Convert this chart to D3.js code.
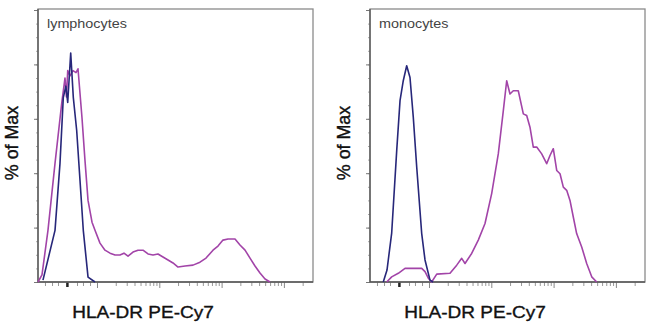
<!DOCTYPE html>
<html>
<head>
	<meta charset="utf-8">
	<script src="https://cdn.jsdelivr.net/npm/d3@7"></script>
</head>
<style type="text/css">
	body { margin:0; background:#fff; }
	text { font-family: "Liberation Sans", Arial, sans-serif; }
</style>
<body>
</body>
</html>
<script type="text/javascript">
	// x in display units of the biexponential axis (decades), y in % of Max
	var lymphIso = [[1.133,0.7],[1.326,19],[1.406,43.6],[1.459,67.8],[1.50,72],[1.53,66],[1.578,84.2],[1.62,67.8],[1.674,55.7],[1.727,37.4],[1.78,19],[1.856,1.8],[1.968,0]];
	var lymphHla = [[1.053,0],[1.117,2.6],[1.213,19],[1.326,43.6],[1.433,65.6],[1.486,75],[1.51,68],[1.53,77.7],[1.567,75.8],[1.615,77.7],[1.663,77],[1.695,78.4],[1.759,60.4],[1.807,44.7],[1.856,30],[1.92,22],[1.968,19],[2.048,14.3],[2.128,11.7],[2.209,10.6],[2.289,9.9],[2.369,9.9],[2.433,10.6],[2.498,9.5],[2.578,11],[2.658,11.7],[2.738,11.7],[2.819,10.3],[2.899,9.9],[2.979,10.3],[3.059,9.2],[3.14,8.1],[3.22,7],[3.3,5.5],[3.413,5.9],[3.541,6.2],[3.653,7.3],[3.75,8.8],[3.862,11.7],[3.942,13.2],[4.022,15.4],[4.103,15.8],[4.215,15.8],[4.295,13.6],[4.376,11.7],[4.456,8.8],[4.536,5.9],[4.616,3.3],[4.697,1.1],[4.777,0]];
	var monoIso = [[1.266,0],[1.326,4.4],[1.401,18],[1.482,48.4],[1.535,66.7],[1.587,74],[1.642,79.5],[1.695,75.2],[1.748,60.5],[1.803,42.2],[1.883,17.8],[1.936,8.1],[2.016,0.7],[2.064,0]];
	var monoHla = [[1.321,0],[1.401,1.9],[1.507,3.2],[1.615,5],[1.883,5],[1.936,3.8],[1.989,1.4],[2.043,0],[2.124,2.9],[2.337,3.2],[2.445,6.2],[2.525,8.7],[2.578,6.8],[2.685,10.5],[2.791,15.4],[2.899,21.5],[3.006,32.5],[3.112,47.1],[3.193,63],[3.247,74],[3.3,69.1],[3.353,70.3],[3.433,70.3],[3.514,61.8],[3.568,61.2],[3.621,56.9],[3.674,49.6],[3.729,49.6],[3.809,47.1],[3.889,43.5],[3.942,46.5],[3.995,49],[4.05,41],[4.103,39.8],[4.156,34.9],[4.21,33.7],[4.263,30],[4.316,23.9],[4.37,17.8],[4.451,12.9],[4.531,6.8],[4.612,1.9],[4.692,0]];

	var panelNames = ["lymphocytes", "monocytes"];
	var panelSeries = [[lymphIso, lymphHla], [monoIso, monoHla]];
	var seriesColors = ["#27277a", "#a244a8"];
	var yTicks = [0, 20, 40, 60, 80, 100];
	var yMinor = d3.range(0, 100, 5);
	var linTicks = [1.165, 1.278, 1.374, 1.679, 1.775, 1.888];
	var decades = [2, 3, 4, 5];
	var zeroPos = 1.525;
	var xLabel = "HLA-DR PE-Cy7";
	var yLabel = "% of Max";

	var width = 650, height = 324;
	var svg = d3.select("body").append("svg").attr("width", width).attr("height", height);

	var panelLeft = [38, 370];
	var pw = 275, plotTop = 9, plotBottom = 282;
	var y = d3.scaleLinear().domain([0, 100]).range([plotBottom, plotTop + 1]);

	// minor ticks along x (log spacing inside each decade)
	var xMinor = linTicks.slice();
	decades.forEach(function(d){
		for (var k = 2; k <= 9; k++) xMinor.push(d + Math.log10(k));
	});

	panelNames.forEach(function(name, i){
		var x = d3.scaleLinear().domain([1.053, 5.467]).range([panelLeft[i], panelLeft[i] + pw]);
		var g = svg.append("g");

		// x ticks
		g.append("g").attr("transform", "translate(0," + plotBottom + ")")
			.call(d3.axisBottom(x).tickValues(xMinor.filter(function(v){ return v < 5.46; })).tickSize(4).tickFormat(""))
			.call(function(a){ a.select(".domain").remove(); a.selectAll("line").attr("stroke", "#999"); });
		g.append("g").attr("transform", "translate(0," + plotBottom + ")")
			.call(d3.axisBottom(x).tickValues(decades).tickSize(6).tickFormat(""))
			.call(function(a){ a.select(".domain").remove(); a.selectAll("line").attr("stroke", "#888"); });
		g.append("line").attr("x1", x(zeroPos)).attr("x2", x(zeroPos)).attr("y1", plotBottom).attr("y2", plotBottom + 5)
			.attr("stroke", "#222").attr("stroke-width", 2.5);

		// y ticks
		g.append("g").attr("transform", "translate(" + panelLeft[i] + ",0)")
			.call(d3.axisLeft(y).tickValues(yMinor).tickSize(2).tickFormat(""))
			.call(function(a){ a.select(".domain").remove(); a.selectAll("line").attr("stroke", "#aaa"); });
		g.append("g").attr("transform", "translate(" + panelLeft[i] + ",0)")
			.call(d3.axisLeft(y).tickValues(yTicks).tickSize(4).tickFormat(""))
			.call(function(a){ a.select(".domain").remove(); a.selectAll("line").attr("stroke", "#777"); });

		// frame
		g.append("rect").attr("x", panelLeft[i]).attr("y", plotTop).attr("width", pw).attr("height", plotBottom - plotTop)
			.attr("fill", "none").attr("stroke", "#8a8a8a").attr("stroke-width", 1.3);
		g.append("path").attr("d", "M" + panelLeft[i] + "," + plotTop + "V" + plotBottom + "H" + (panelLeft[i] + pw))
			.attr("fill", "none").attr("stroke", "#555").attr("stroke-width", 1.3);

		// curves
		var line = d3.line().x(function(d){ return x(d[0]); }).y(function(d){ return y(d[1]); });
		panelSeries[i].slice().reverse().forEach(function(s, j){
			var c = seriesColors[1 - j];
			g.append("path").datum(s).attr("d", line).attr("fill", "none")
				.attr("stroke", c).attr("stroke-width", 1.6).attr("stroke-linejoin", "round");
		});

		// texts
		g.append("text").attr("transform", "translate(" + (panelLeft[i] + 9) + ",28) scale(1.15,1)")
			.attr("font-size", 12.5).attr("fill", "#444").text(name);
		g.append("text").attr("transform", "translate(" + (panelLeft[i] + 105) + ",318) scale(1.12,1)")
			.attr("text-anchor", "middle").attr("font-size", 17).attr("fill", "#111")
			.attr("stroke", "#111").attr("stroke-width", 0.35).text(xLabel);
		g.append("text").attr("transform", "translate(" + (panelLeft[i] - 20) + ",143) rotate(-90) scale(1.05,1.12)")
			.attr("text-anchor", "middle").attr("font-size", 17).attr("fill", "#111")
			.attr("stroke", "#111").attr("stroke-width", 0.35).text(yLabel);
	});
</script>
